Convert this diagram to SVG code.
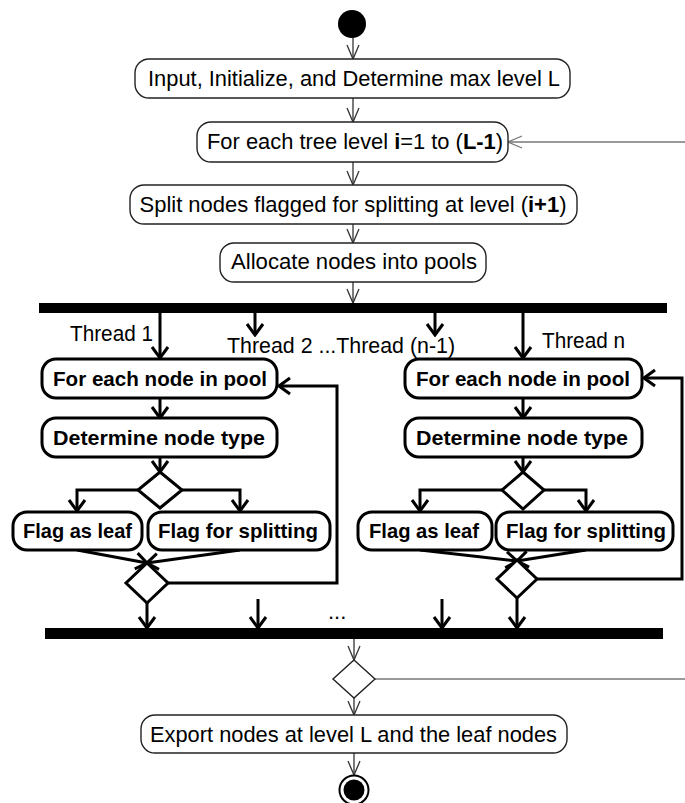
<svg xmlns="http://www.w3.org/2000/svg" width="685" height="803" viewBox="0 0 685 803">
<style>
.box{fill:#fff;stroke:#222;stroke-width:1.4}
.bbox{fill:#fff;stroke:#000;stroke-width:3}
.t{font-family:"Liberation Sans",Arial,sans-serif;font-size:22px;fill:#000}
.b{font-family:"Liberation Sans",Arial,sans-serif;font-size:21px;font-weight:bold;fill:#000}
.thin{fill:none;stroke:#333;stroke-width:1.3}
.gray{fill:none;stroke:#777;stroke-width:1.3}
.thick{fill:none;stroke:#000;stroke-width:3}
.bar{fill:#000}
.dia{fill:#fff;stroke:#000;stroke-width:3}
.dthin{fill:#fff;stroke:#222;stroke-width:1.4}
</style>
<defs>
<marker id="av" viewBox="-16 -8 18 16" refX="0" refY="0" markerWidth="18" markerHeight="16" markerUnits="userSpaceOnUse" orient="auto">
<path d="M-14,-6 L0,0 L-14,6" fill="none" stroke="#333" stroke-width="1.3"/>
</marker>
<marker id="avg" viewBox="-16 -8 18 16" refX="0" refY="0" markerWidth="18" markerHeight="16" markerUnits="userSpaceOnUse" orient="auto">
<path d="M-14,-6 L0,0 L-14,6" fill="none" stroke="#777" stroke-width="1.3"/>
</marker>
<marker id="ak" viewBox="-14 -11 16 22" refX="0" refY="0" markerWidth="16" markerHeight="22" markerUnits="userSpaceOnUse" orient="auto">
<path d="M-11,-8 L0,0 L-11,8" fill="none" stroke="#000" stroke-width="3"/>
</marker>
</defs>

<g id="connectors">
<line class="thin" x1="353" y1="38" x2="353" y2="59" marker-end="url(#av)"/>
<line class="thin" x1="353" y1="98" x2="353" y2="122" marker-end="url(#av)"/>
<line class="gray" x1="685" y1="142" x2="508" y2="142" marker-end="url(#avg)"/>
<line class="thin" x1="353" y1="162" x2="353" y2="185" marker-end="url(#av)"/>
<line class="thin" x1="353" y1="224" x2="353" y2="243" marker-end="url(#av)"/>
<line class="thin" x1="353" y1="282" x2="353" y2="303" marker-end="url(#av)"/>

<line class="thick" x1="160" y1="313" x2="160" y2="358" marker-end="url(#ak)"/>
<line class="thick" x1="255" y1="313" x2="255" y2="335" marker-end="url(#ak)"/>
<line class="thick" x1="435" y1="313" x2="435" y2="335" marker-end="url(#ak)"/>
<line class="thick" x1="523" y1="313" x2="523" y2="358" marker-end="url(#ak)"/>

<line class="thick" x1="160" y1="398" x2="160" y2="418" marker-end="url(#ak)"/>
<line class="thick" x1="160" y1="457" x2="160" y2="472" marker-end="url(#ak)"/>
<polyline class="thick" points="138,490 77,490 77,511" marker-end="url(#ak)"/>
<polyline class="thick" points="182,490 240,490 240,511" marker-end="url(#ak)"/>
<line class="thick" x1="77" y1="550" x2="147" y2="563" marker-end="url(#ak)"/>
<line class="thick" x1="240" y1="550" x2="147" y2="563" marker-end="url(#ak)"/>
<polyline class="thick" points="168,583 337,583 337,386 279,386" marker-end="url(#ak)"/>
<line class="thick" x1="147" y1="603" x2="147" y2="628" marker-end="url(#ak)"/>
<line class="thick" x1="258" y1="599" x2="258" y2="628" marker-end="url(#ak)"/>
<line class="thick" x1="442" y1="599" x2="442" y2="628" marker-end="url(#ak)"/>

<line class="thick" x1="523" y1="398" x2="523" y2="418" marker-end="url(#ak)"/>
<line class="thick" x1="523" y1="457" x2="523" y2="472" marker-end="url(#ak)"/>
<polyline class="thick" points="502,490 420,490 420,511" marker-end="url(#ak)"/>
<polyline class="thick" points="544,490 586,490 586,511" marker-end="url(#ak)"/>
<line class="thick" x1="420" y1="550" x2="517" y2="561" marker-end="url(#ak)"/>
<line class="thick" x1="586" y1="550" x2="517" y2="561" marker-end="url(#ak)"/>
<polyline class="thick" points="537,579 682,579 682,378 644,378" marker-end="url(#ak)"/>
<line class="thick" x1="517" y1="598" x2="517" y2="628" marker-end="url(#ak)"/>

<line class="thin" x1="354" y1="639" x2="354" y2="660" marker-end="url(#av)"/>
<line class="gray" x1="375" y1="679" x2="685" y2="679"/>
<line class="thin" x1="354" y1="698" x2="354" y2="715" marker-end="url(#av)"/>
<line class="thin" x1="354" y1="753" x2="354" y2="775" marker-end="url(#av)"/>
</g>

<g id="start"><circle cx="352" cy="24" r="14" fill="#000"/></g>

<g id="n-input">
<rect class="box" x="135" y="59" width="435" height="39" rx="14"/>
<text class="t" x="354" y="86" text-anchor="middle" textLength="412" lengthAdjust="spacingAndGlyphs">Input, Initialize, and Determine max level L</text>
</g>

<g id="n-level">
<rect class="box" x="197" y="122" width="311" height="40" rx="14"/>
<text class="t" x="355" y="149" text-anchor="middle" textLength="296" lengthAdjust="spacingAndGlyphs">For each tree level <tspan font-weight="bold">i</tspan>=1 to (<tspan font-weight="bold">L-1</tspan>)</text>
</g>

<g id="n-split">
<rect class="box" x="130" y="185" width="447" height="39" rx="14"/>
<text class="t" x="353" y="212" text-anchor="middle" textLength="427" lengthAdjust="spacingAndGlyphs">Split nodes flagged for splitting at level (<tspan font-weight="bold">i+1</tspan>)</text>
</g>

<g id="n-allocate">
<rect class="box" x="220" y="243" width="266" height="39" rx="14"/>
<text class="t" x="354" y="269" text-anchor="middle" textLength="246" lengthAdjust="spacingAndGlyphs">Allocate nodes into pools</text>
</g>

<g id="fork"><rect class="bar" x="39" y="303" width="628" height="10"/></g>

<g id="thread-labels">
<text class="t" x="70" y="341" textLength="83" lengthAdjust="spacingAndGlyphs">Thread 1</text>
<text class="t" x="227" y="353" textLength="228" lengthAdjust="spacingAndGlyphs">Thread 2 ...Thread (n-1)</text>
<text class="t" x="542" y="348" textLength="83" lengthAdjust="spacingAndGlyphs">Thread n</text>
</g>

<g id="l-foreach">
<rect class="bbox" x="42" y="359" width="235" height="39" rx="14"/>
<text class="b" x="160" y="386" text-anchor="middle" textLength="214" lengthAdjust="spacingAndGlyphs">For each node in pool</text>
</g>
<g id="l-determine">
<rect class="bbox" x="42" y="418" width="235" height="39" rx="14"/>
<text class="b" x="159" y="445" text-anchor="middle" textLength="212" lengthAdjust="spacingAndGlyphs">Determine node type</text>
</g>
<g id="l-decision"><polygon class="dia" points="160,472 182,490 160,508 138,490"/></g>
<g id="l-leaf">
<rect class="bbox" x="13" y="512" width="129" height="38" rx="14"/>
<text class="b" x="77.5" y="538" text-anchor="middle" textLength="109" lengthAdjust="spacingAndGlyphs">Flag as leaf</text>
</g>
<g id="l-splitflag">
<rect class="bbox" x="148" y="512" width="182" height="38" rx="14"/>
<text class="b" x="238" y="538" text-anchor="middle" textLength="160" lengthAdjust="spacingAndGlyphs">Flag for splitting</text>
</g>
<g id="l-merge"><polygon class="dia" points="147,563 168,583 147,603 126,583"/></g>

<g id="r-foreach">
<rect class="bbox" x="405" y="359" width="237" height="39" rx="14"/>
<text class="b" x="523" y="386" text-anchor="middle" textLength="214" lengthAdjust="spacingAndGlyphs">For each node in pool</text>
</g>
<g id="r-determine">
<rect class="bbox" x="405" y="418" width="237" height="39" rx="14"/>
<text class="b" x="522" y="445" text-anchor="middle" textLength="212" lengthAdjust="spacingAndGlyphs">Determine node type</text>
</g>
<g id="r-decision"><polygon class="dia" points="523,472 544,490 523,509 502,490"/></g>
<g id="r-leaf">
<rect class="bbox" x="358" y="512" width="134" height="38" rx="14"/>
<text class="b" x="424" y="538" text-anchor="middle" textLength="110" lengthAdjust="spacingAndGlyphs">Flag as leaf</text>
</g>
<g id="r-splitflag">
<rect class="bbox" x="496" y="512" width="177" height="38" rx="14"/>
<text class="b" x="586" y="538" text-anchor="middle" textLength="160" lengthAdjust="spacingAndGlyphs">Flag for splitting</text>
</g>
<g id="r-merge"><polygon class="dia" points="517,560 537,579 517,598 497,579"/></g>

<g id="ellipsis"><text class="t" x="328" y="619">...</text></g>

<g id="join"><rect class="bar" x="45" y="628" width="618" height="11"/></g>

<g id="loop-decision"><polygon class="dthin" points="354,660 375,679 354,698 333,679"/></g>

<g id="n-export">
<rect class="box" x="141" y="715" width="426" height="38" rx="14"/>
<text class="t" x="353.5" y="742" text-anchor="middle" textLength="407" lengthAdjust="spacingAndGlyphs">Export nodes at level L and the leaf nodes</text>
</g>

<g id="end">
<circle cx="354" cy="790" r="14.5" fill="#fff" stroke="#000" stroke-width="2"/>
<circle cx="354" cy="790" r="10.5" fill="#000"/>
</g>
</svg>
